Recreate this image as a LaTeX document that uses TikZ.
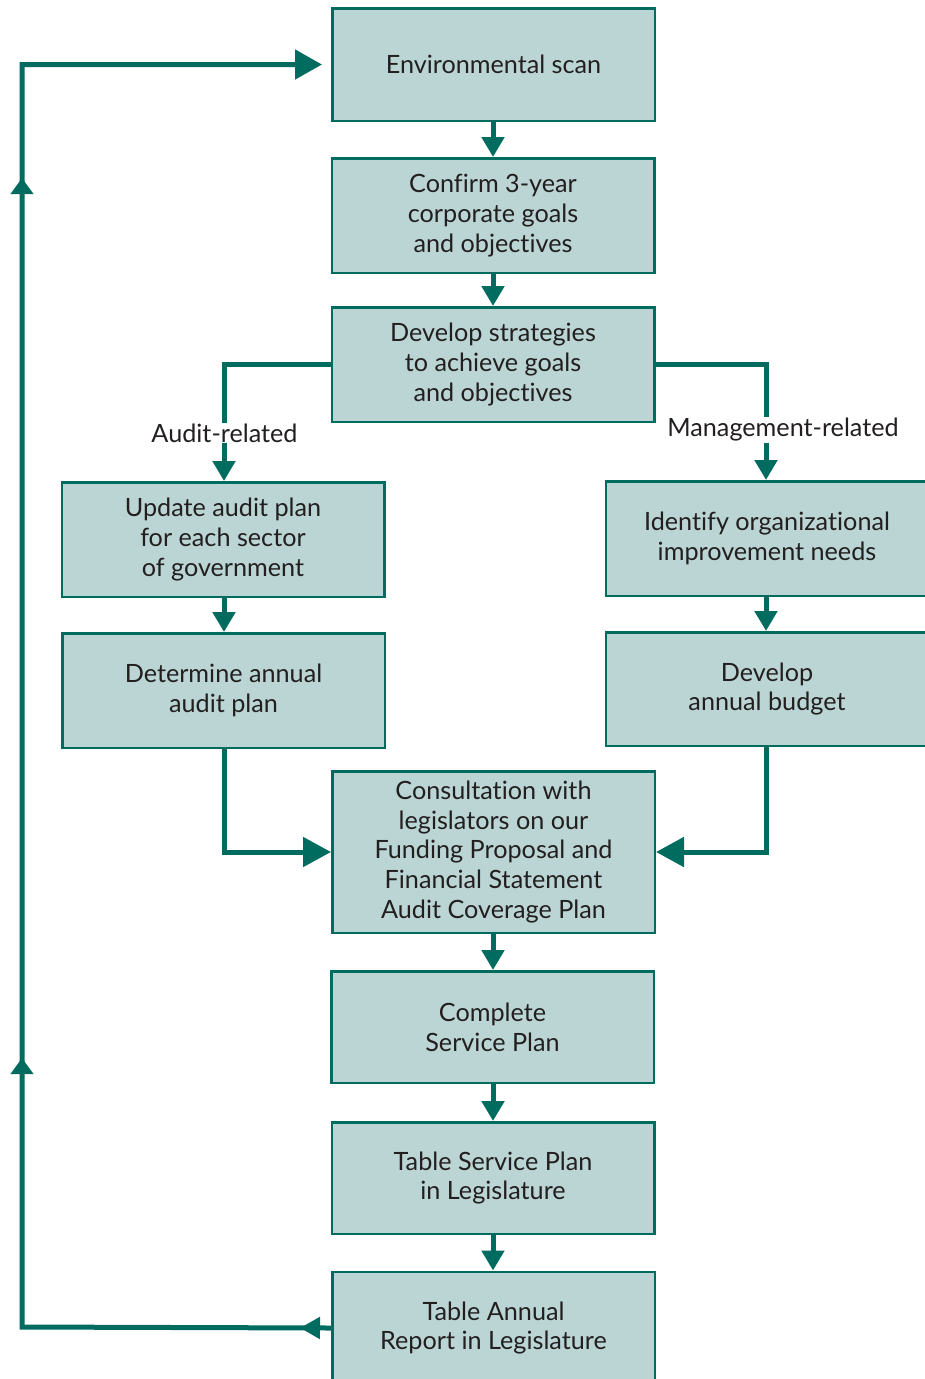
\documentclass[tikz,border=0pt]{standalone}
\usepackage{fontspec}
\setmainfont{Lato}[Ligatures=NoCommon]
\usetikzlibrary{arrows.meta,decorations.markings}
\definecolor{teal}{RGB}{0,108,96}
\definecolor{boxfill}{RGB}{186,213,212}
\definecolor{txt}{RGB}{35,31,32}
\tikzset{
  stepbox/.style={draw=teal, line width=2.5pt, fill=boxfill, align=center,
    minimum width=322.5pt, text=txt, font=\fontsize{25.2}{29.8}\selectfont, inner sep=0pt},
  shortarr/.style={draw=teal, line width=5pt, -{Triangle[length=20pt,width=22pt]}},
  bigarr/.style={draw=teal, line width=5pt, -{Triangle[length=28pt,width=29pt]}},
  lbl/.style={fill=white, text=txt, inner sep=1pt, font=\fontsize{25.2}{29}\selectfont},
}
\begin{document}
\begin{tikzpicture}[x=1pt,y=-1pt]
\useasboundingbox (0,0) rectangle (924,1379);
\node[stepbox, minimum height=112.5pt] (env) at (493.5,64.5) {Environmental scan};
\node[stepbox, minimum height=114.5pt] (conf) at (493,215.5) {Confirm 3-year\\corporate goals\\and objectives};
\node[stepbox, minimum height=114.5pt] (dev) at (493,364.5) {Develop strategies\\to achieve goals\\and objectives};
\node[stepbox, minimum height=114.5pt] (upd) at (223,539.5) {Update audit plan\\for each sector\\of government};
\node[stepbox, minimum height=114.5pt] (det) at (223.5,690.5) {Determine annual\\audit plan};
\node[stepbox, minimum height=114.5pt] (ident) at (767,538.5) {Identify organizational\\improvement needs};
\node[stepbox, minimum height=113.5pt] (budg) at (767,689) {Develop\\annual budget};
\node[stepbox, minimum height=161.5pt] (cons) at (493.5,852) {Consultation with\\legislators on our\\Funding Proposal and\\Financial Statement\\Audit Coverage Plan};
\node[stepbox, minimum height=111.5pt] (comp) at (492.5,1027) {Complete\\Service Plan};
\node[stepbox, minimum height=111.5pt] (tsp) at (493,1178) {Table Service Plan\\in Legislature};
\node[stepbox, minimum height=112.5pt] (tar) at (493.5,1328) {Table Annual\\Report in Legislature};

\draw[shortarr] (env.south -| 493,0) -- (conf.north -| 493,0);
\draw[shortarr] (conf.south -| 493,0) -- (dev.north -| 493,0);
\draw[shortarr] (cons.south -| 493,0) -- (comp.north -| 493,0);
\draw[shortarr] (comp.south -| 493,0) -- (tsp.north -| 493,0);
\draw[shortarr] (tsp.south -| 493,0) -- (tar.north -| 493,0);
\draw[shortarr] (upd.south -| 224,0) -- (det.north -| 224,0);
\draw[shortarr] (ident.south -| 766,0) -- (budg.north -| 766,0);

\draw[shortarr] (dev.west) -| (upd.north -| 224,0);
\draw[shortarr] (dev.east) -| (ident.north -| 766,0);
\node[lbl] (alab) at (224.5,433) {Audit-related};
\node[lbl] (mlab) at (783,430) {Management-related};

\draw[bigarr] (det.south -| 224,0) |- (cons.west);
\draw[bigarr] (budg.south -| 766,0) |- (cons.east);

\coordinate (bl) at (22,1327);
\coordinate (tl) at (22,64.5);
\draw[draw=teal, line width=5pt, -{Triangle[length=27pt,width=29pt]}, shorten >=9pt,
  postaction={decorate}, decoration={markings,
    mark=at position 31pt with {\arrow[teal]{Triangle[length=20pt,width=21pt]}},
    mark=at position 578pt with {\arrow[teal]{Triangle[length=16pt,width=22pt]}},
    mark=at position 1458pt with {\arrow[teal]{Triangle[length=16pt,width=22pt]}}}]
  (tar.west) -- (bl) -- (tl) -- (env.west);
\end{tikzpicture}
\end{document}
